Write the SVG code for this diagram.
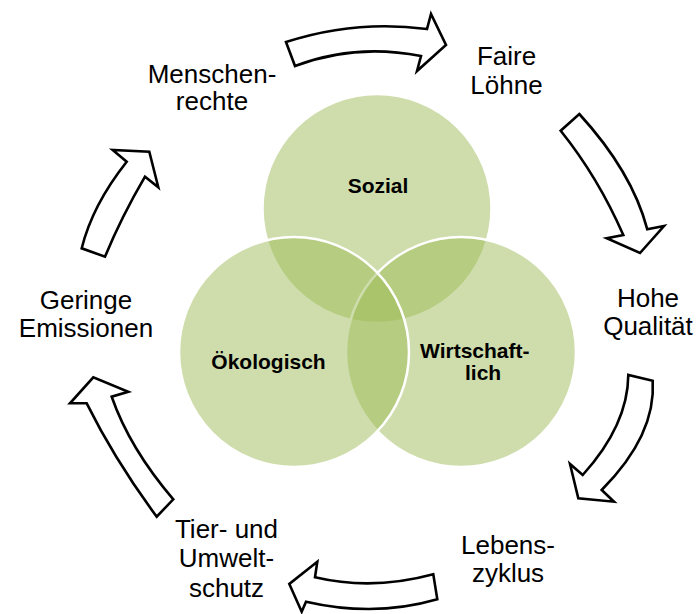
<svg xmlns="http://www.w3.org/2000/svg" width="697" height="614" viewBox="0 0 697 614">
<style>
.circ{fill:#9dbb57;fill-opacity:0.5;stroke:#ffffff;stroke-width:2.5}
.arrow{fill:#ffffff;stroke:#000000;stroke-width:2.6;stroke-linejoin:miter}
.lbl{font-family:"Liberation Sans",Arial,sans-serif;font-size:26px;fill:#000000;text-anchor:middle}
.core{font-family:"Liberation Sans",Arial,sans-serif;font-size:21px;font-weight:bold;fill:#000000}
</style>
<rect width="697" height="614" fill="#ffffff"/>
<g id="venn">
  <g id="sozial"><circle class="circ" cx="377" cy="208.5" r="114.5"/></g>
  <g id="wirtschaftlich"><circle class="circ" cx="461" cy="352" r="115"/></g>
  <g id="oekologisch"><circle class="circ" cx="294" cy="352" r="115"/></g>
  <text class="core" x="378" y="192.5" text-anchor="middle">Sozial</text>
  <text class="core" x="268.5" y="368.5" text-anchor="middle">Ökologisch</text>
  <text class="core" x="420" y="357.5">Wirtschaft-</text>
  <text class="core" x="465" y="380">lich</text>
</g>
<g id="connectors">
  <path class="arrow" d="M286,42 Q355.5,19.5 427,29 L431,14 L446,45 L417,71 L421,56 Q355.4,43.1 295,66 Z"/>
  <path class="arrow" d="M579.3,114 Q632.1,171.7 647.3,229.3 L664,226 L640,253 L606.7,238.3 L623.3,235 Q598,177.2 560.7,130.7 Z"/>
  <path class="arrow" d="M652.7,380.7 Q656.2,435.3 601.7,490 L614,501.7 L578.3,498.3 L570,464 L582.7,475 Q627.9,425 628.3,375 Z"/>
  <path class="arrow" d="M433.3,574.3 Q372.5,590.8 315,577.3 L317.3,561.7 L289.3,584 L301.7,611.7 L306,601.7 Q375,617.5 437.3,599.3 Z"/>
  <path class="arrow" d="M156.7,516.7 Q114.9,460 86.7,403.3 L70,403.3 L93.3,377.3 L128.3,391.7 L111.7,396.7 Q129.5,448 173.3,499.3 Z"/>
  <path class="arrow" d="M81.7,248.3 Q92.4,205 126.7,161.7 L112.7,150 L149.3,151.7 L158.3,187.3 L145,176.7 Q121.6,216.7 105,256.7 Z"/>
</g>
<g id="menschenrechte"><text class="lbl" x="212" y="82.5">Menschen-</text><text class="lbl" x="212" y="110">rechte</text></g>
<g id="faire-loehne"><text class="lbl" x="506.5" y="65">Faire</text><text class="lbl" x="506.5" y="93.5">Löhne</text></g>
<g id="hohe-qualitaet"><text class="lbl" x="648" y="306.5">Hohe</text><text class="lbl" x="648" y="335">Qualität</text></g>
<g id="lebenszyklus"><text class="lbl" x="508" y="553.5">Lebens-</text><text class="lbl" x="508" y="581.5">zyklus</text></g>
<g id="tier-umweltschutz"><text class="lbl" x="226.5" y="537.5">Tier- und</text><text class="lbl" x="226.5" y="566.5">Umwelt-</text><text class="lbl" x="226.5" y="596.5">schutz</text></g>
<g id="geringe-emissionen"><text class="lbl" x="86" y="309">Geringe</text><text class="lbl" x="86" y="337">Emissionen</text></g>
</svg>
